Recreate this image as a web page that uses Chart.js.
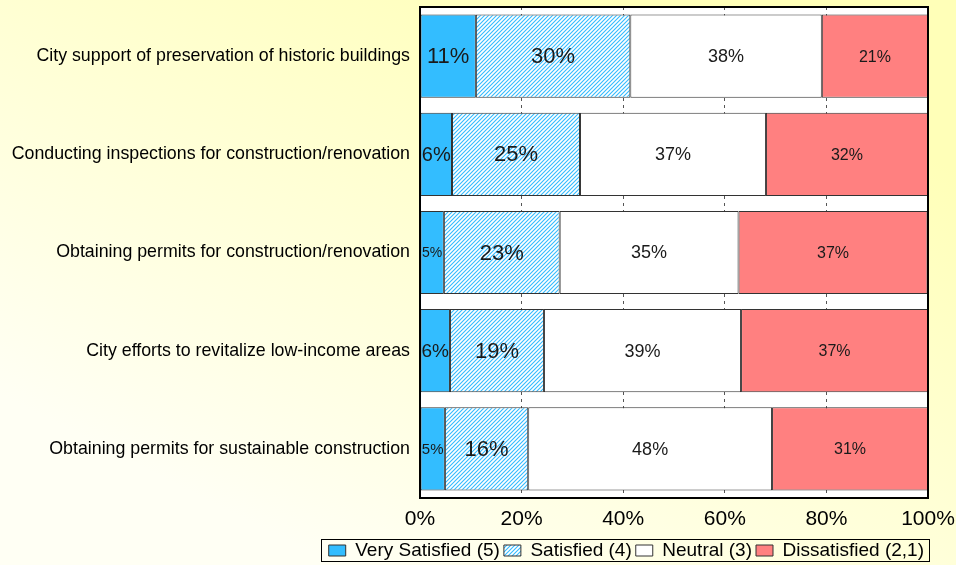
<!DOCTYPE html>
<html>
<head>
<meta charset="utf-8">
<script src="https://cdn.jsdelivr.net/npm/chart.js@4.4.0/dist/chart.umd.min.js"></script>
<style>
html,body{margin:0;padding:0;}
#wrap{width:956px;height:565px;}
</style>
</head>
<body>
<div id="wrap"><canvas id="grafica"></canvas></div>
<script>
// categorias y series (porcentajes)
var categorias = [
    "City support of preservation of historic buildings",
    "Conducting inspections for construction/renovation",
    "Obtaining permits for construction/renovation",
    "City efforts to revitalize low-income areas",
    "Obtaining permits for sustainable construction"
];
var muySatisfecho = [11.0, 6.3, 4.7, 5.9, 4.9];
var satisfecho    = [30.4, 25.2, 22.8, 18.5, 16.4];
var neutral       = [37.7, 36.6, 35.2, 38.8, 48.0];
var insatisfecho  = [20.9, 31.9, 37.2, 36.8, 30.7];
var nombres = ["Very Satisfied (5)", "Satisfied (4)", "Neutral (3)", "Dissatisfied (2,1)"];
var tamLetra = [22, 22, 18, 16];

var fuente = "'Liberation Sans', Arial, sans-serif";

// trama rayada para "Satisfied"
function rayado(){
    var c = document.createElement('canvas');
    c.width = 4; c.height = 4;
    var x = c.getContext('2d');
    x.fillStyle = '#ffffff';
    x.fillRect(0,0,4,4);
    x.strokeStyle = '#33bbff';
    x.lineWidth = 1.1;
    x.beginPath();
    x.moveTo(-1,5); x.lineTo(5,-1);
    x.moveTo(-1,1); x.lineTo(1,-1);
    x.moveTo(3,5); x.lineTo(5,3);
    x.stroke();
    return x.createPattern(c,'repeat');
}

var fondo = {
    id:'fondo',
    afterLayout:function(chart){
        // bajar un poco la leyenda
        var l = chart.legend;
        l.top += 5;
        l.bottom += 5;
    },
    beforeDraw:function(chart){
        var ctx = chart.ctx, a = chart.chartArea;
        var g = ctx.createLinearGradient(chart.width*0.65,0,chart.width*0.35,chart.height);
        g.addColorStop(0,'#ffffb8');
        g.addColorStop(1,'#fffff4');
        ctx.save();
        ctx.fillStyle = g;
        ctx.fillRect(0,0,chart.width,chart.height);
        ctx.fillStyle = '#ffffff';
        ctx.fillRect(a.left,a.top,a.right-a.left,a.bottom-a.top);
        ctx.restore();
    }
};

var etiquetas = {
    id:'etiquetas',
    afterDatasetsDraw:function(chart){
        var ctx = chart.ctx, a = chart.chartArea;
        ctx.save();
        chart.data.datasets.forEach(function(ds,i){
            var meta = chart.getDatasetMeta(i);
            meta.data.forEach(function(bar,j){
                var p = bar.getProps(['x','y','base'],true);
                var ancho = Math.abs(p.x - p.base);
                var txt = Math.round(ds.data[j]) + '%';
                var t = tamLetra[i];
                ctx.font = t + 'px ' + fuente;
                while(t > 8 && ctx.measureText(txt).width > ancho - 2){
                    t--;
                    ctx.font = t + 'px ' + fuente;
                }
                ctx.fillStyle = '#1a1a1a';
                ctx.textAlign = 'center';
                ctx.textBaseline = 'middle';
                ctx.fillText(txt,(p.x + p.base)/2,p.y+1);
            });
        });
        // marco del area
        ctx.strokeStyle = '#000';
        ctx.lineWidth = 2;
        ctx.strokeRect(a.left,a.top,a.right-a.left,a.bottom-a.top);
        ctx.restore();
    },
    afterDraw:function(chart){
        var h = chart.legend.legendHitBoxes;
        if(!h || !h.length) return;
        var izq = h[0].left - 8;
        var der = h[h.length-1].left + h[h.length-1].width + 5;
        var ctx = chart.ctx;
        ctx.save();
        ctx.strokeStyle = '#000';
        ctx.lineWidth = 1;
        ctx.strokeRect(Math.round(izq)+0.5, Math.round(h[0].top)-1.5, Math.round(der-izq), Math.round(h[0].height)+3);
        ctx.restore();
    }
};

var chart = new Chart(document.getElementById('grafica').getContext('2d'),{
    type:'bar',
    data:{
        labels:categorias,
        datasets:[{
            label:nombres[0],
            data:muySatisfecho,
            backgroundColor:'#33bdff'
        },{
            label:nombres[1],
            data:satisfecho,
            backgroundColor:rayado()
        },{
            label:nombres[2],
            data:neutral,
            backgroundColor:'#ffffff'
        },{
            label:nombres[3],
            data:insatisfecho,
            backgroundColor:'#ff8080'
        }]
    },
    options:{
        indexAxis:'y',
        responsive:true,
        maintainAspectRatio:false,
        animation:false,
        layout:{ padding:{ top:7, right:28, left:0, bottom:0 } },
        datasets:{
            bar:{
                borderColor:'#333333',
                borderWidth:1,
                borderSkipped:false,
                categoryPercentage:0.847,
                barPercentage:1
            }
        },
        scales:{
            x:{
                stacked:true,
                min:0,
                max:100,
                ticks:{
                    stepSize:20,
                    callback:function(v){ return v + '%'; },
                    color:'#000',
                    font:{ family:fuente, size:21 },
                    padding:9
                },
                grid:{ color:'#555555', drawTicks:false, lineWidth:1 },
                border:{ display:false, dash:[3,4] },
                afterFit:function(s){ s.height = 34; s.paddingLeft = 0; s.paddingRight = 0; }
            },
            y:{
                stacked:true,
                ticks:{
                    color:'#000',
                    font:{ family:fuente, size:17.8 },
                    padding:2
                },
                grid:{ display:false },
                border:{ display:false },
                afterFit:function(s){ s.width = 420; s.paddingTop = 0; s.paddingBottom = 0; }
            }
        },
        plugins:{
            legend:{
                position:'bottom',
                align:'end',
                labels:{
                    color:'#000',
                    font:{ family:fuente, size:19 },
                    boxWidth:17,
                    boxHeight:11,
                    padding:4
                }
            },
            tooltip:{ enabled:false }
        }
    },
    plugins:[fondo,etiquetas]
});
</script>
</body>
</html>
